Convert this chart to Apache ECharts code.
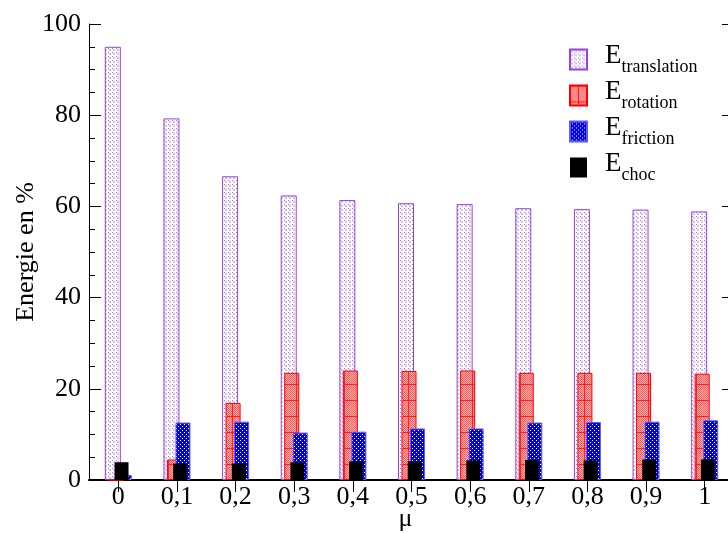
<!DOCTYPE html>
<html><head><meta charset="utf-8">
<script src="https://cdn.jsdelivr.net/npm/echarts@6/dist/echarts.min.js"></script>
<style>html,body{margin:0;padding:0;background:#fff}#c{width:728px;height:533px}</style>
</head><body><div id="c"></div>
<script>
const categories = ['0','0,1','0,2','0,3','0,4','0,5','0,6','0,7','0,8','0,9','1'];
const seriesNames = ['translation','rotation','friction','choc'];
const translation = [95.0, 79.3, 66.6, 62.4, 61.4, 60.7, 60.5, 59.6, 59.4, 59.3, 58.9];
const rotation    = [0,    4.5, 16.9, 23.5, 24.0, 23.9, 24.0, 23.5, 23.5, 23.5, 23.3];
const friction    = [1.1, 12.6, 12.8, 10.4, 10.6, 11.3, 11.3, 12.6, 12.7, 12.8, 13.1];
const choc        = [3.9,  3.6,  3.6,  3.9,  4.1,  4.1,  4.3,  4.4,  4.3,  4.5,  4.5];
const yMin = 0, yMax = 100, yInterval = 20;

const FONT = 'Liberation Serif';

function makePattern(w, h, draw) {
  const c = document.createElement('canvas');
  c.width = w; c.height = h;
  const ctx = c.getContext('2d');
  draw(ctx);
  return { image: c, repeat: 'repeat' };
}
const patTrans = makePattern(4, 4, ctx => {
  ctx.fillStyle = '#ffffff'; ctx.fillRect(0, 0, 4, 4);
  ctx.fillStyle = '#d6bff5'; ctx.fillRect(1, 1, 2, 2);
  ctx.fillStyle = '#a56be6'; ctx.fillRect(0, 0, 1, 1);
});
const patRot = makePattern(16, 16, ctx => {
  for (let y = 0; y < 16; y++) for (let x = 0; x < 16; x++) {
    ctx.fillStyle = ((x + y) % 2 === 0) ? '#ff5a5a' : '#ffb8b8';
    ctx.fillRect(x, y, 1, 1);
  }
  ctx.fillStyle = '#ff2020';
  ctx.fillRect(0, 0, 16, 1);
  ctx.fillRect(8, 0, 1, 16);
});
const patFric = makePattern(4, 4, ctx => {
  ctx.fillStyle = '#0000ff'; ctx.fillRect(0, 0, 4, 4);
  ctx.fillStyle = '#ffffff'; ctx.fillRect(0, 0, 1, 1); ctx.fillRect(2, 2, 1, 1);
});

const G = { left: 89, top: 24, width: 645, height: 456 };
const offsets = [-5.5, -2.5, 6, 3.2]; // translation, rotation, friction, choc
const grids = [ { left: G.left, top: G.top, width: G.width, height: G.height, outerBoundsMode: 'none', containLabel: false } ];
offsets.forEach(o => grids.push({ left: G.left + o, top: G.top, width: G.width, height: G.height, outerBoundsMode: 'none', containLabel: false }));

const xAxes = [
  { gridIndex: 0, type: 'category', data: categories, position: 'bottom', boundaryGap: true,
    axisLine: { show: true, lineStyle: { color: '#000', width: 2 } },
    axisTick: { show: true, inside: true, alignWithLabel: true, length: 12, lineStyle: { color: '#000' } },
    axisLabel: { color: '#000', fontSize: 26, fontFamily: FONT, margin: 4 },
    name: 'μ', nameLocation: 'middle', nameGap: 26, nameMoveOverlap: false,
    nameTextStyle: { color: '#000', fontSize: 26, fontFamily: FONT, verticalAlign: 'top', padding: [0, 12, 0, 0] } },
  { gridIndex: 0, type: 'category', data: categories, position: 'top', boundaryGap: true,
    axisLine: { show: true, lineStyle: { color: '#000', width: 1 } },
    axisTick: { show: true, inside: true, alignWithLabel: true, length: 12, lineStyle: { color: '#000' } },
    axisLabel: { show: false } }
];
const yAxes = [
  { gridIndex: 0, type: 'value', min: yMin, max: yMax, interval: yInterval, position: 'left',
    axisLine: { show: true, lineStyle: { color: '#000', width: 1 } },
    axisTick: { show: true, inside: true, length: 12, lineStyle: { color: '#000' } },
    minorTick: { show: true, splitNumber: 4, length: 6, lineStyle: { color: '#000' } },
    splitLine: { show: false },
    axisLabel: { color: '#000', fontSize: 26, fontFamily: FONT, margin: 8 },
    name: 'Energie en %', nameLocation: 'middle', nameGap: 50, nameMoveOverlap: false,
    nameTextStyle: { color: '#000', fontSize: 26, fontFamily: FONT } },
  { gridIndex: 0, type: 'value', min: yMin, max: yMax, interval: yInterval, position: 'right',
    axisLine: { show: true, lineStyle: { color: '#000', width: 1 } },
    axisTick: { show: true, inside: true, length: 12, lineStyle: { color: '#000' } },
    minorTick: { show: true, splitNumber: 4, length: 6, lineStyle: { color: '#000' } },
    splitLine: { show: false }, axisLabel: { show: false } }
];
for (let i = 1; i <= 4; i++) {
  xAxes.push({ gridIndex: i, type: 'category', data: categories, boundaryGap: true, show: false });
  yAxes.push({ gridIndex: i, type: 'value', min: yMin, max: yMax, show: false, splitLine: { show: false } });
}

const styles = [
  { data: translation, barWidth: 16, itemStyle: { color: patTrans, borderColor: '#9a3fe0', borderWidth: 1 }, z: 2 },
  { data: rotation, barWidth: 15, itemStyle: { color: patRot, borderColor: '#ff0000', borderWidth: 1 }, z: 3 },
  { data: friction, barWidth: 15, itemStyle: { color: patFric, borderColor: '#5a5aff', borderWidth: 1 }, z: 4 },
  { data: choc, barWidth: 14, itemStyle: { color: '#000000', borderWidth: 0 }, z: 5 }
];
const series = styles.map((s, i) => ({
  type: 'bar', name: seriesNames[i], xAxisIndex: i + 2, yAxisIndex: i + 2,
  data: s.data, barWidth: s.barWidth, itemStyle: s.itemStyle, z: s.z,
  animation: false, emphasis: { disabled: true }
}));

const chart = echarts.init(document.getElementById('c'), null, { renderer: 'canvas' });
chart.setOption({
  backgroundColor: '#ffffff',
  animation: false,
  grid: grids,
  xAxis: xAxes,
  yAxis: yAxes,
  legend: {
    data: seriesNames, orient: 'vertical', left: 569, top: 42, padding: 0,
    itemWidth: 17, itemHeight: 20, itemGap: 1, icon: 'rect', selectedMode: false,
    formatter: n => '{e|E}{s|' + n + '}',
    textStyle: {
      color: '#000', fontFamily: FONT,
      rich: {
        e: { fontSize: 27, fontFamily: FONT, color: '#000', lineHeight: 18, padding: [0, 0, 8, 13] },
        s: { fontSize: 18, fontFamily: FONT, color: '#000', lineHeight: 14, padding: [15, 0, 0, 0] }
      }
    }
  },
  series: series
});
</script>
</body></html>
